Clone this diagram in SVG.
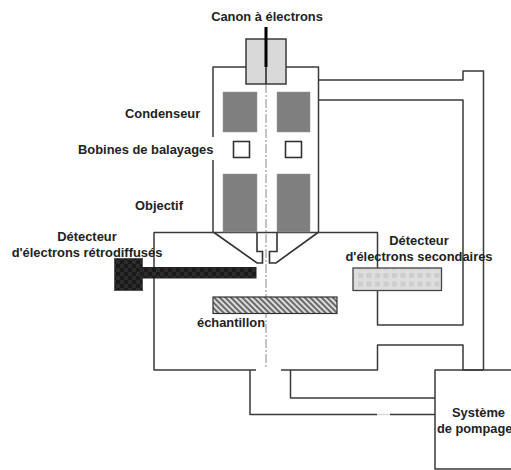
<svg xmlns="http://www.w3.org/2000/svg" width="511" height="470" viewBox="0 0 511 470">
<style>
.l{fill:none;stroke:#3a3a3a;stroke-width:1.5;stroke-linejoin:round}
.b{fill:none;stroke:#333;stroke-width:1.6}
.coil{fill:#7f7f7f;stroke:#999;stroke-width:.5}
.sq{fill:#fff;stroke:#333;stroke-width:1.6}
text{font-family:"Liberation Sans",Arial,sans-serif;font-weight:700;font-size:12.900px;fill:#222}
.m{text-anchor:middle}
</style>
<defs>
<pattern id="dark" width="8" height="8" patternUnits="userSpaceOnUse"><rect width="8" height="8" fill="#1a1a1a"/><rect width="4" height="4" fill="#2c2c2c"/><rect x="4" y="4" width="4" height="4" fill="#2c2c2c"/></pattern>
<pattern id="light" width="8.500" height="8.500" patternUnits="userSpaceOnUse"><rect width="8.500" height="8.500" fill="#dedede"/><rect x="1" y="1" width="5" height="5" fill="#cdcdcd"/></pattern>
<pattern id="hatch" width="4" height="4" patternUnits="userSpaceOnUse" patternTransform="rotate(-45)"><rect width="4" height="4" fill="#dcdcdc"/><rect width="2" height="4" fill="#6a6a6a"/></pattern>
</defs>
<rect width="511" height="470" fill="#fff"/>
<g id="connectors">
<path class="l" d="M318.500 80H463V71H483.500V370"/>
<path class="l" d="M318.500 100H463V325H377.500V290"/>
<path class="l" d="M377.500 268V232.500H318.500"/>
<path class="l" d="M213 232.500H154V370H256"/>
<path class="l" d="M281 370H377.500V345H463V370H483.500"/>
<path class="l" d="M250 370V414.500H377M390 414.500H435"/>
<path d="M377 414.500H390" stroke="#d8d8d8" stroke-width="1.500"/>
<path class="l" d="M290.500 370V398H435"/>
</g>
<g id="column"><path class="l" d="M246 67H213V137M213 160V232.500H318.500V67H286"/></g>
<g id="axis"><path d="M266 84V367" fill="none" stroke="#888" stroke-width="1" stroke-dasharray="9 2 2 2"/></g>
<g id="canon">
<rect x="246" y="39" width="40" height="45" fill="#d9d9d9" stroke="#3a3a3a" stroke-width="1.500"/>
<path d="M266 27V67" stroke="#000" stroke-width="3"/><path d="M266 67V84" stroke="#222" stroke-width="1.500"/>
</g>
<g id="condenseur"><rect class="coil" x="223" y="92" width="34" height="40"/><rect class="coil" x="277" y="92" width="33" height="40"/></g>
<g id="bobines"><rect class="sq" x="233.500" y="141.500" width="16" height="16"/><rect class="sq" x="285.500" y="141.500" width="16" height="16"/></g>
<g id="objectif"><rect class="coil" x="223" y="174" width="34" height="58"/><rect class="coil" x="277" y="174" width="33" height="58"/>
<path class="b" d="M214 232.500L257 263H262.500V251.500H257V232.500"/><path class="b" d="M318 232.500L276 263H269.500V251.500H277V232.500"/></g>
<g id="detecteur-retro"><rect x="114.500" y="258.500" width="28" height="32" fill="url(#dark)" stroke="#555"/><rect x="142.500" y="267.500" width="113.500" height="10.500" fill="url(#dark)" stroke="#222"/></g>
<g id="echantillon"><rect x="213" y="297" width="124" height="16.500" fill="url(#hatch)" stroke="#333" stroke-width="1.200"/></g>
<g id="detecteur-sec"><rect x="353" y="268" width="88.500" height="22.500" fill="url(#light)" stroke="#444" stroke-width="1.300"/></g>
<g id="pompage"><path class="l" d="M511 370H435V469H511"/></g>
<g id="labels">
<text class="m" x="267" y="21">Canon à électrons</text>
<text x="125" y="118">Condenseur</text>
<text x="78" y="154">Bobines de balayages</text>
<text x="135" y="210">Objectif</text>
<text class="m" x="87" y="241">Détecteur</text>
<text class="m" x="87" y="257">d'électrons rétrodiffusés</text>
<text class="m" x="419" y="245">Détecteur</text>
<text class="m" x="419" y="261">d'électrons secondaires</text>
<text class="m" x="231" y="327">échantillon</text>
<text x="452" y="417">Système</text>
<text x="437" y="433" font-size="12.800" style="font-size:12.800px">de pompage</text>
</g>
</svg>
